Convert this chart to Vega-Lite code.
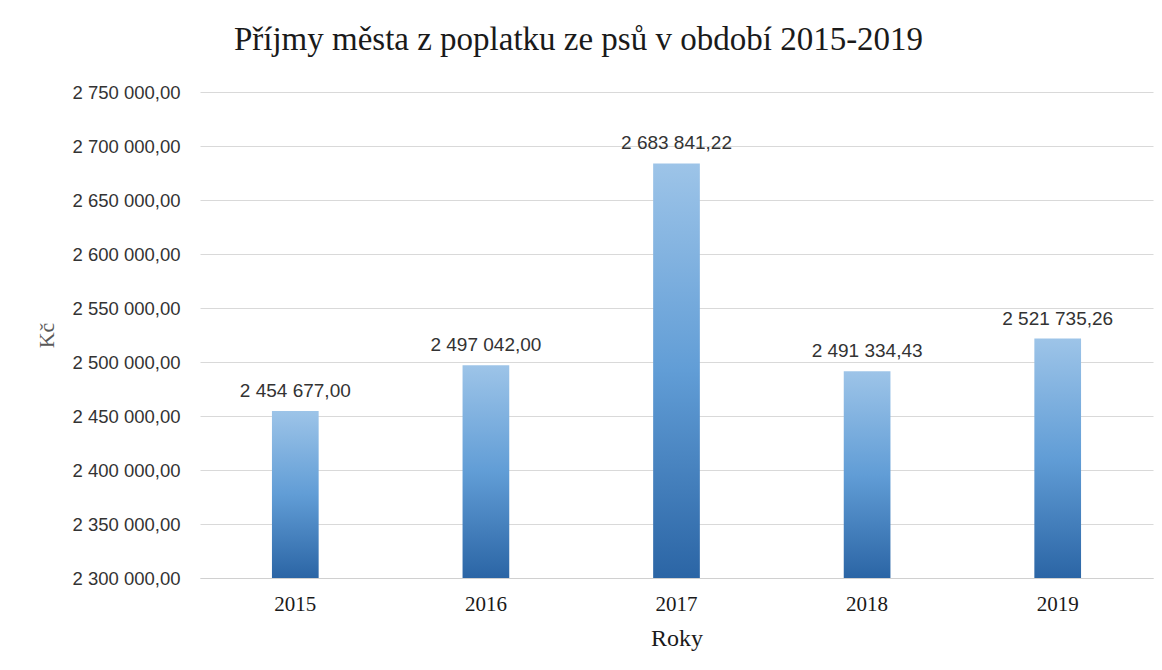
{
  "$schema": "https://vega.github.io/schema/vega-lite/v6.json",
  "width": 953,
  "height": 486,
  "autosize": {"type": "none"},
  "padding": {"left": 200, "top": 92, "right": 9, "bottom": 92},
  "background": "white",
  "config": {
    "locale": {"number": {"decimal": ",", "thousands": " ", "grouping": [3], "currency": ["", " Kč"]}},
    "view": {"stroke": null}
  },
  "title": {
    "text": "Příjmy města z poplatku ze psů v období 2015-2019",
    "font": "Liberation Serif",
    "fontSize": 33,
    "fontWeight": "normal",
    "color": "#1a1a1a",
    "anchor": "middle",
    "dx": -98,
    "offset": 26
  },
  "data": {
    "values": [
      {"rok": "2015", "prijmy": 2454677.00, "zaklad": 2300000},
      {"rok": "2016", "prijmy": 2497042.00, "zaklad": 2300000},
      {"rok": "2017", "prijmy": 2683841.22, "zaklad": 2300000},
      {"rok": "2018", "prijmy": 2491334.43, "zaklad": 2300000},
      {"rok": "2019", "prijmy": 2521735.26, "zaklad": 2300000}
    ]
  },
  "encoding": {
    "x": {
      "field": "rok",
      "type": "ordinal",
      "scale": {"paddingInner": 0, "paddingOuter": 0},
      "axis": {
        "title": "Roky",
        "titleFont": "Liberation Serif",
        "titleFontSize": 24,
        "titleFontWeight": "normal",
        "titleColor": "#1a1a1a",
        "titlePadding": 12,
        "labelAngle": 0,
        "labelFont": "Liberation Serif",
        "labelFontSize": 21,
        "labelColor": "#1a1a1a",
        "labelPadding": 15,
        "ticks": false,
        "domain": true,
        "domainColor": "#d0d0d0",
        "grid": false
      }
    },
    "y": {
      "field": "prijmy",
      "type": "quantitative",
      "scale": {"domain": [2300000, 2750000], "zero": false, "nice": false},
      "axis": {
        "title": "Kč",
        "titleFont": "Liberation Serif",
        "titleFontSize": 22,
        "titleFontWeight": "normal",
        "titleColor": "#595959",
        "titlePadding": 13,
        "values": [2300000, 2350000, 2400000, 2450000, 2500000, 2550000, 2600000, 2650000, 2700000, 2750000],
        "format": ",.2f",
        "labelFont": "Liberation Sans",
        "labelFontSize": 18.5,
        "labelColor": "#333333",
        "labelPadding": 20,
        "ticks": false,
        "domain": false,
        "grid": true,
        "gridColor": "#d9d9d9",
        "gridWidth": 1
      }
    }
  },
  "layer": [
    {
      "mark": {
        "type": "bar",
        "width": {"band": 0.245},
        "color": {
          "gradient": "linear",
          "x1": 0, "y1": 0, "x2": 0, "y2": 1,
          "stops": [
            {"offset": 0, "color": "#9dc4e8"},
            {"offset": 0.5, "color": "#619dd6"},
            {"offset": 1, "color": "#2b65a5"}
          ]
        }
      },
      "encoding": {
        "y2": {"field": "zaklad"}
      }
    },
    {
      "mark": {
        "type": "text",
        "baseline": "alphabetic",
        "dy": -14,
        "font": "Liberation Sans",
        "fontSize": 19,
        "color": "#333333"
      },
      "encoding": {
        "text": {"field": "prijmy", "type": "quantitative", "format": ",.2f"}
      }
    }
  ]
}
